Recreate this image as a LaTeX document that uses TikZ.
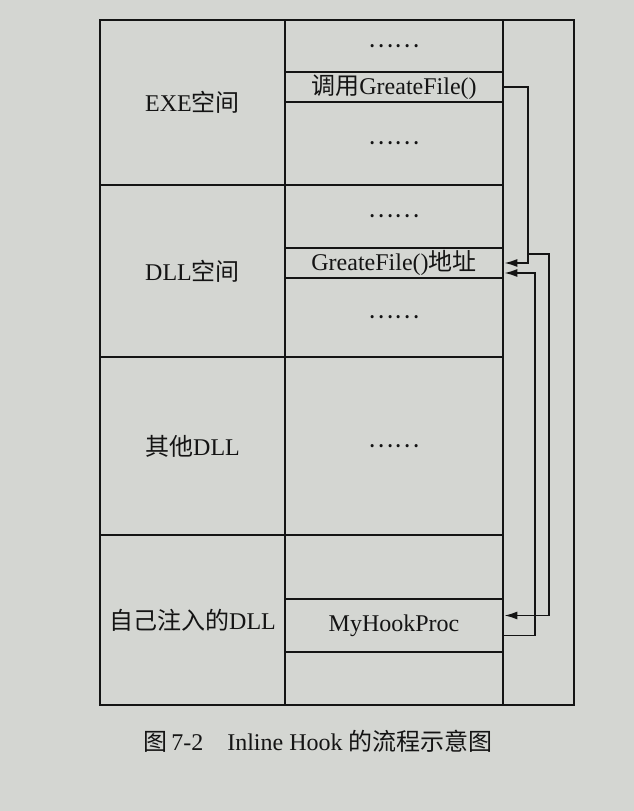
\documentclass[tikz,border=0pt]{standalone}
\usepackage{fontspec}
\setmainfont{Liberation Serif}
\newfontfamily\cjk{Noto Sans CJK SC}
\usetikzlibrary{arrows.meta}

\definecolor{paper}{RGB}{212,214,210}
\definecolor{ink}{RGB}{20,20,20}

\tikzset{
  cell/.style={draw=ink,line width=2.6pt,rectangle,inner sep=0pt,
    font=\fontsize{24}{28}\selectfont,text=ink},
  leftcell/.style={cell,minimum width=185pt},
  midcell/.style={cell,minimum width=218pt},
  jump/.style={draw=ink,line width=1.7pt},
  jumpto/.style={jump,-{Latex[length=13pt,width=8pt]}}
}

\begin{document}
\begin{tikzpicture}[x=1pt,y=-1pt]

        \fill[paper] (0,0) rectangle (634,811);
        \useasboundingbox (0,0) rectangle (634,811);

        % left column
        \begin{scope}[every node/.style={leftcell}]
          \node[minimum height=165pt] (exe)   at (192.5,102.5) {EXE{\cjk 空间}};
          \node[minimum height=172pt] (dll)   at (192.5,271)   {DLL{\cjk 空间}};
          \node[minimum height=178pt] (other) at (192.5,446)   {{\cjk 其他}DLL};
          \node[minimum height=170pt] (mine)  at (192.5,620)   {{\cjk 自己注入的}DLL};
        \end{scope}

        % middle column
        \begin{scope}[every node/.style={midcell}]
          \node[minimum height=52pt]  (e1)   at (394,46)    {{\cjk ……}};
          \node[minimum height=30pt]  (call) at (394,87)    {{\cjk 调用}GreateFile()};
          \node[minimum height=83pt]  (e3)   at (394,143.5) {{\cjk ……}};
          \node[minimum height=63pt]  (d1)   at (394,216.5) {{\cjk ……}};
          \node[minimum height=30pt]  (addr) at (394,263)   {GreateFile(){\cjk 地址}};
          \node[minimum height=79pt]  (d3)   at (394,317.5) {{\cjk ……}};
          \node[minimum height=178pt] (o1)   at (394,446)   {{\cjk ……}};
          \node[minimum height=64pt]  (m1)   at (394,567)   {};
          \node[minimum height=53pt]  (hook) at (394,625.5) {MyHookProc};
          \node[minimum height=53pt]  (m3)   at (394,678.5) {};
        \end{scope}

        % right column
        \node[cell,minimum width=71pt,minimum height=685pt] (side) at (538.5,362.5) {};

        \node[font=\fontsize{24}{28}\selectfont,text=ink] (cap) at (318,741)
          {{\cjk 图}\,7-2\quad Inline Hook {\cjk 的流程示意图}};

        % jumps
        \coordinate (br) at ([xshift=24pt,yshift=9pt]addr.east);
        \draw[jumpto] (call.east) -- ++(24,0) |- (addr.east);
        \draw[jumpto] (br) -- ++(21,0) |- ([yshift=10pt]hook.east);
        \draw[jumpto] ([yshift=-10pt]hook.east) -- ++(31,0) |- ([yshift=-10pt]addr.east);

      \end{tikzpicture}
\end{document}
